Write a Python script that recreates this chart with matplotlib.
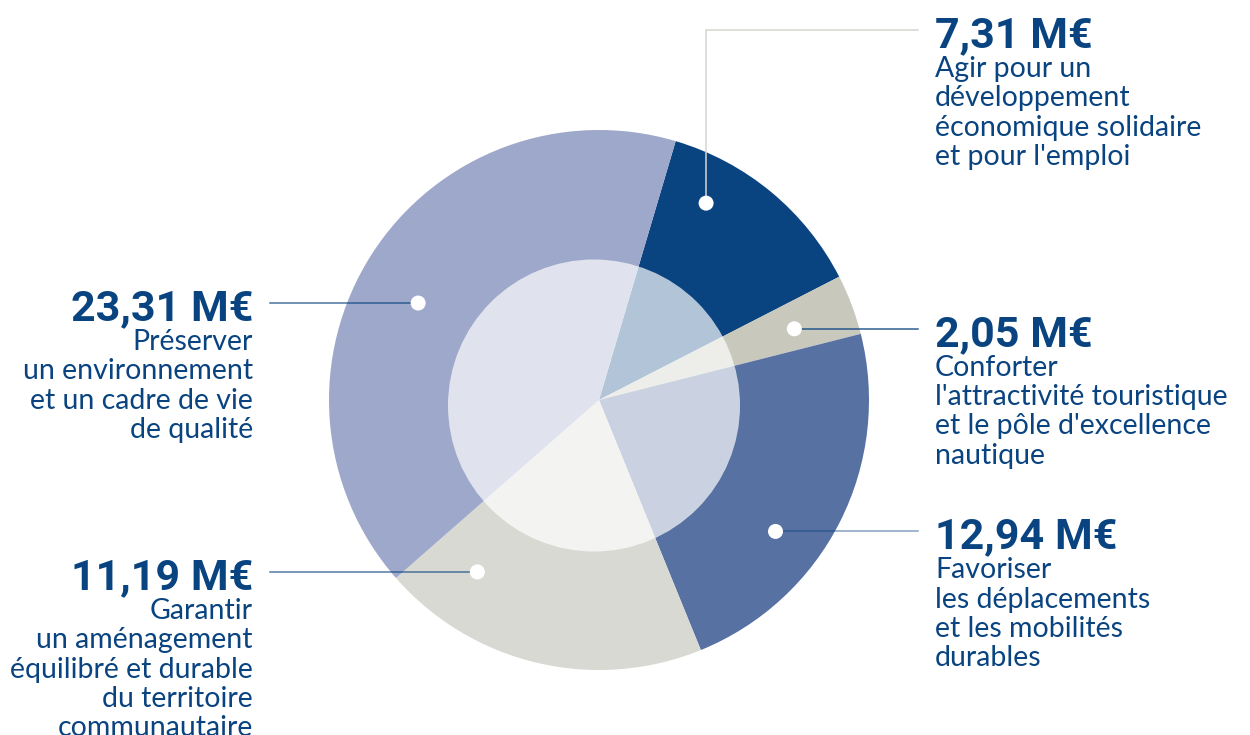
import numpy as np
import matplotlib
matplotlib.use("Agg")
import matplotlib.pyplot as plt
from matplotlib.patches import Circle

# Budget par axe stratégique (M€)
montants = [7.31, 2.05, 12.94, 11.19, 23.31]
valeurs_txt = ["7,31 M€", "2,05 M€", "12,94 M€", "11,19 M€", "23,31 M€"]
libelles = [
    ["Agir pour un", "développement", "économique solidaire", "et pour l'emploi"],
    ["Conforter", "l'attractivité touristique", "et le pôle d'excellence", "nautique"],
    ["Favoriser", "les déplacements", "et les mobilités", "durables"],
    ["Garantir", "un aménagement", "équilibré et durable", "du territoire", "communautaire"],
    ["Préserver", "un environnement", "et un cadre de vie", "de qualité"],
]
couleurs = ["#0a4480", "#c8c8bc", "#5671a2", "#d9d9d3", "#9ea8ca"]

# placement des repères (position dans la part, rayon relatif) et du texte
ancres = [(0.74, 0.83), (0.45, 0.77), (0.38, 0.815), (0.19, 0.78), (0.53, 0.76)]
cotes = ["droite", "droite", "droite", "gauche", "gauche"]
trait_alpha = [1.0, 0.85, 0.5, 0.7, 0.75]

W, H = 1250, 735
BLEU = "#0a4480"
CX, CY, R = 599, H - 400, 270

fig = plt.figure(figsize=(W / 100, H / 100), dpi=100)
ax = fig.add_axes([0, 0, 1, 1])

wedges, _ = ax.pie(montants, colors=couleurs, startangle=73.5, counterclock=False,
                   center=(CX, CY), radius=R, frame=True,
                   wedgeprops=dict(linewidth=0))
ax.set_xlim(0, W)
ax.set_ylim(0, H)
ax.set_aspect("equal")
ax.axis("off")

# disque intérieur éclairci
ax.add_patch(Circle((594, H - 405.5), 146, facecolor="white", alpha=0.69,
                    edgecolor="none", zorder=3))

for w, val, lignes, (frac, rr), cote, a in zip(wedges, valeurs_txt, libelles,
                                                ancres, cotes, trait_alpha):
    ang = np.radians(w.theta1 + frac * (w.theta2 - w.theta1))
    px = CX + rr * R * np.cos(ang)
    py = CY + rr * R * np.sin(ang)

    if val.startswith("7,31"):
        ty = H - 30
        ax.plot([px, px, 918], [py, ty, ty], color="#d6d6d0", lw=1.1,
                zorder=4, solid_joinstyle="miter")
    elif cote == "droite":
        ty = py
        ax.plot([px, 918], [py, py], color=BLEU, alpha=a, lw=1.1, zorder=4)
    else:
        ty = py
        ax.plot([270, px], [py, py], color=BLEU, alpha=a, lw=1.1, zorder=4)

    ax.add_patch(Circle((px, py), 7.5, facecolor="white", edgecolor="none", zorder=5))

    if cote == "droite":
        tx, ha = 935, "left"
    else:
        tx, ha = 253, "right"

    base = ty - 17
    ax.text(tx, base, val, ha=ha, va="baseline", color=BLEU,
            family="Roboto", weight="bold", fontsize=31)
    for i, l in enumerate(lignes):
        ax.text(tx, base - 30 - i * 29.3, l, ha=ha, va="baseline", color=BLEU,
                family="Lato", fontsize=20.5)

fig.savefig("out.png", dpi=100)
